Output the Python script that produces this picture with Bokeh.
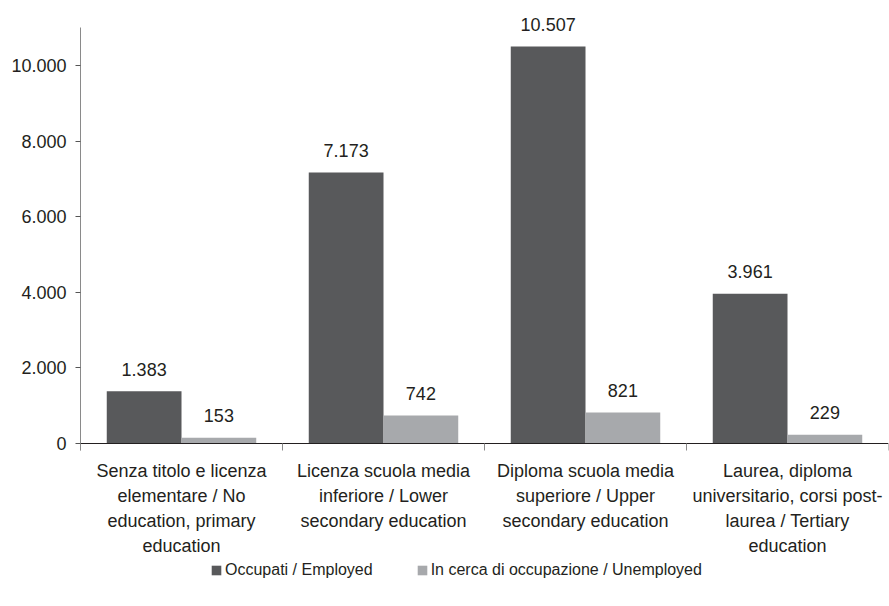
from bokeh.plotting import figure
from bokeh.models import (Range1d, LinearAxis, FixedTicker, ColumnDataSource,
                          Legend, LegendItem, CustomJSTickFormatter)
from bokeh.core.properties import value
from bokeh.embed import file_html
from bokeh.resources import INLINE

categories = [
    "Senza titolo e licenza\nelementare / No\neducation, primary\neducation",
    "Licenza scuola media\ninferiore / Lower\nsecondary education",
    "Diploma scuola media\nsuperiore / Upper\nsecondary education",
    "Laurea, diploma\nuniversitario, corsi post-\nlaurea / Tertiary\neducation",
]
employed = [1383, 7173, 10507, 3961]
unemployed = [153, 742, 821, 229]
series_names = ["Occupati / Employed", "In cerca di occupazione / Unemployed"]
y_ticks = [0, 2000, 4000, 6000, 8000, 10000]
y_tick_labels = ["0", "2.000", "4.000", "6.000", "8.000", "10.000"]

FONT = "Liberation Sans"
TXT = "#231f20"
DARK = "#58595b"
LIGHT = "#a7a9ac"

n = len(categories)
centers = [i + 0.5 for i in range(n)]
bw = 0.37
off = 0.185

# layout: frame spans whole canvas height; value 0 sits 442px below the top
H = 604
TOP_PAD = 1
Y_END = 11700
ppu = (443 - TOP_PAD) / Y_END
Y_START = -(H - 443) / ppu


def fmt(v):
    return f"{v:,}".replace(",", ".")


src_e = ColumnDataSource(dict(x=[c - off for c in centers], top=employed,
                              lab=[fmt(v) for v in employed]))
src_u = ColumnDataSource(dict(x=[c + off for c in centers], top=unemployed,
                              lab=[fmt(v) for v in unemployed]))

p = figure(width=889, height=H, x_range=Range1d(0, n), y_range=Range1d(Y_START, Y_END),
           output_backend="svg", toolbar_location=None, x_axis_location=None,
           min_border_left=80, min_border_top=TOP_PAD, min_border_right=1, min_border_bottom=0)
p.outline_line_color = None
p.xgrid.visible = False
p.ygrid.visible = False

r_e = p.vbar(x="x", top="top", width=bw, source=src_e, fill_color=DARK, line_color=None)
r_u = p.vbar(x="x", top="top", width=bw, source=src_u, fill_color=LIGHT, line_color=None)

for s in (src_e, src_u):
    p.text(x="x", y="top", text="lab", source=s, text_font=value(FONT),
           text_font_size=value("18px"), text_color=TXT, text_align="center",
           text_baseline="alphabetic", y_offset=-22)

# y axis
ya = p.yaxis[0]
ya.bounds = (-185, 11000)
ya.ticker = FixedTicker(ticks=y_ticks)
ya.major_label_overrides = {t: l for t, l in zip(y_ticks, y_tick_labels)}
ya.minor_tick_line_color = None
ya.major_tick_in = 0
ya.major_tick_out = 5
ya.axis_line_color = "#8a8a8a"
ya.major_tick_line_color = "#555555"
ya.major_label_text_font = FONT
ya.major_label_text_font_size = "18px"
ya.major_label_text_color = TXT
ya.major_label_standoff = 9

# x axis at value 0 with ticks at category boundaries
xa = LinearAxis(ticker=FixedTicker(ticks=list(range(n + 1))),
                formatter=CustomJSTickFormatter(code="return ''"), fixed_location=0)
xa.axis_line_color = "#231f20"
xa.major_tick_line_color = "#8a8a8a"
xa.major_tick_in = 0
xa.major_tick_out = 7
xa.minor_tick_line_color = None
xa.major_label_standoff = 0
p.add_layout(xa, "below")

# category labels
xl = LinearAxis(ticker=FixedTicker(ticks=centers), fixed_location=0)
xl.major_label_overrides = {c: l for c, l in zip(centers, categories)}
xl.axis_line_color = None
xl.major_tick_line_color = None
xl.minor_tick_line_color = None
xl.major_tick_out = 0
xl.major_tick_in = 0
xl.major_label_text_font = FONT
xl.major_label_text_font_size = "18px"
xl.major_label_text_color = TXT
xl.major_label_text_line_height = 1.25
xl.major_label_standoff = 17
p.add_layout(xl, "below")

legend = Legend(items=[LegendItem(label=series_names[0], renderers=[r_e]),
                       LegendItem(label=series_names[1], renderers=[r_u])],
                orientation="horizontal", location=(130, 25))
legend.border_line_color = None
legend.background_fill_alpha = 0
legend.label_text_font = FONT
legend.label_text_font_size = "16px"
legend.label_text_color = TXT
legend.glyph_width = 12
legend.glyph_height = 12
legend.label_standoff = 3
legend.spacing = 43
legend.padding = 2
legend.margin = 0
p.add_layout(legend, "center")

open("out.html", "w").write(file_html(p, INLINE))
